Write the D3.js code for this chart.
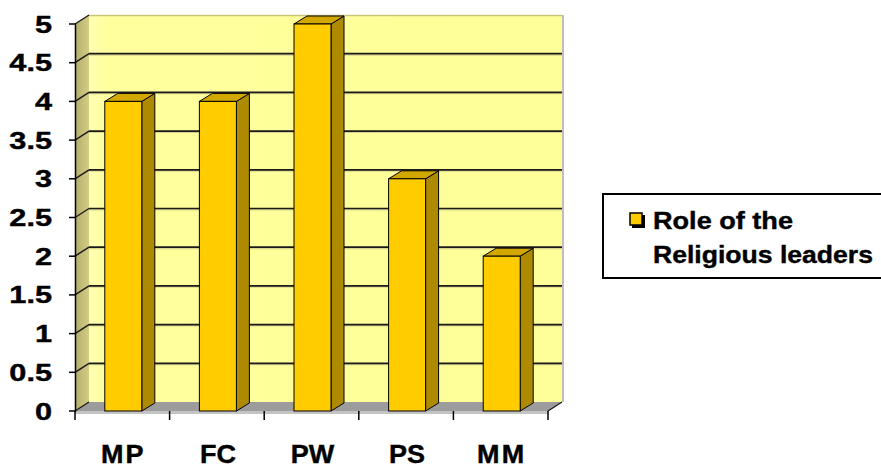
<!DOCTYPE html>
<html>
<head>
<meta charset="utf-8">
<script src="https://cdn.jsdelivr.net/npm/d3@7"></script>
<style>
  html, body { margin: 0; padding: 0; background: #fff; }
  svg { display: block; }
  text { font-family: "Liberation Sans", Arial, sans-serif; font-weight: bold; fill: #000; stroke: #000; stroke-width: 0.4px; }
</style>
</head>
<body>
<svg id="chart" width="881" height="468"></svg>
<script>
// Chart data
const categories = ["MP", "FC", "PW", "PS", "MM"];
const values = [4, 4, 5, 3, 2];
const yTickValues = [0, 0.5, 1, 1.5, 2, 2.5, 3, 3.5, 4, 4.5, 5];
const yTickLabels = ["0", "0.5", "1", "1.5", "2", "2.5", "3", "3.5", "4", "4.5", "5"];
const legendLines = ["Role of the", "Religious leaders"];

const svg = d3.select("#chart");

// Front plane scales
const x = d3.scaleBand().domain(categories).range([75, 548]).padding(0);
const y = d3.scaleLinear().domain([0, 5]).range([411, 24]);

// 3D offsets: walls and bars
const DX = 14, DY = -9;
const BDX = 13, BDY = -8;

const defs = svg.append("defs");
const sideGrad = defs.append("linearGradient").attr("id", "sideWall")
  .attr("x1", 0).attr("x2", 1).attr("y1", 0).attr("y2", 0);
sideGrad.append("stop").attr("offset", "0%").attr("stop-color", "#B5AE6C");
sideGrad.append("stop").attr("offset", "100%").attr("stop-color", "#D2CC84");
const backGrad = defs.append("linearGradient").attr("id", "backWall")
  .attr("x1", 0).attr("x2", 1).attr("y1", 0).attr("y2", 0);
backGrad.append("stop").attr("offset", "0%").attr("stop-color", "#FFFFB4");
backGrad.append("stop").attr("offset", "4%").attr("stop-color", "#FFFF9C");
backGrad.append("stop").attr("offset", "100%").attr("stop-color", "#FFFF99");

const x0 = x.range()[0], x1 = x.range()[1];
const yb = y(0), yt = y(5);

// Back wall
svg.append("rect")
  .attr("x", x0 + DX).attr("y", yt + DY)
  .attr("width", x1 - x0).attr("height", yb - yt)
  .attr("fill", "url(#backWall)");
// Back wall right and top edges
svg.append("line")
  .attr("x1", x1 + DX + 1).attr("x2", x1 + DX + 1)
  .attr("y1", yt + DY).attr("y2", yb + DY)
  .attr("stroke", "#BEBEBE").attr("stroke-width", 2);
svg.append("line")
  .attr("x1", x0 + DX).attr("x2", x1 + DX)
  .attr("y1", yt + DY + 0.5).attr("y2", yt + DY + 0.5)
  .attr("stroke", "#C9C37E").attr("stroke-width", 1.5);

// Left side wall
svg.append("polygon")
  .attr("points", [[x0, yb], [x0, yt], [x0 + DX, yt + DY], [x0 + DX, yb + DY]].join(" "))
  .attr("fill", "url(#sideWall)");

// Floor
svg.append("polygon")
  .attr("points", [[x0, yb], [x1, yb], [x1 + DX, yb + DY], [x0 + DX, yb + DY]].join(" "))
  .attr("fill", "#9C9C9C");
svg.append("line")
  .attr("x1", x0).attr("x2", x1).attr("y1", yb + 1.5).attr("y2", yb + 1.5)
  .attr("stroke", "#C4C4C4").attr("stroke-width", 3);

// Gridlines on back wall and side wall
const grid = svg.append("g");
yTickValues.filter(v => v > 0 && v < 5).forEach(v => {
  grid.append("line")
    .attr("x1", x0 + DX).attr("x2", x1 + DX)
    .attr("y1", y(v) + DY + 1.2).attr("y2", y(v) + DY + 1.2)
    .attr("stroke", "#D8D48C").attr("stroke-width", 1.5);
  grid.append("line")
    .attr("x1", x0 + DX).attr("x2", x1 + DX)
    .attr("y1", y(v) + DY).attr("y2", y(v) + DY)
    .attr("stroke", "#1a1a1a").attr("stroke-width", 1.7);
});
yTickValues.filter(v => v > 0).forEach(v => {
  grid.append("line")
    .attr("x1", x0).attr("y1", y(v))
    .attr("x2", x0 + DX).attr("y2", y(v) + DY)
    .attr("stroke", "#1a1a1a").attr("stroke-width", 1.4);
});
grid.append("line")
  .attr("x1", x0).attr("y1", yb)
  .attr("x2", x0 + DX).attr("y2", yb + DY)
  .attr("stroke", "#1a1a1a").attr("stroke-width", 1.3);
grid.append("line")
  .attr("x1", x1).attr("y1", yb)
  .attr("x2", x1 + DX).attr("y2", yb + DY)
  .attr("stroke", "#1a1a1a").attr("stroke-width", 1.3);

// Bars (front, side, top faces)
const barW = 37;
const barOff = (x.bandwidth() - barW) / 2 + 1;
const bars = svg.append("g").selectAll("g").data(categories.map((c, i) => ({ c, v: values[i] })))
  .join("g");
bars.append("polygon")
  .attr("points", d => {
    const l = x(d.c) + barOff + barW, t = y(d.v);
    return [[l, t], [l + BDX, t + BDY], [l + BDX, yb + BDY], [l, yb]].join(" ");
  })
  .attr("fill", "#AE8A00").attr("stroke", "#000").attr("stroke-width", 1).attr("stroke-linejoin", "round");
bars.append("polygon")
  .attr("points", d => {
    const l = x(d.c) + barOff, t = y(d.v);
    return [[l, t], [l + BDX, t + BDY], [l + barW + BDX, t + BDY], [l + barW, t]].join(" ");
  })
  .attr("fill", "#D2A700").attr("stroke", "#000").attr("stroke-width", 1).attr("stroke-linejoin", "round");
bars.append("rect")
  .attr("x", d => x(d.c) + barOff).attr("y", d => y(d.v))
  .attr("width", barW).attr("height", d => yb - y(d.v))
  .attr("fill", "#FFCC00").attr("stroke", "#000").attr("stroke-width", 1);

// Value axis
svg.append("line")
  .attr("x1", x0 + 0.5).attr("x2", x0 + 0.5).attr("y1", yt).attr("y2", yb + 1)
  .attr("stroke", "#000").attr("stroke-width", 1.5);
const yAxis = svg.append("g");
yTickValues.forEach((v, i) => {
  yAxis.append("line")
    .attr("x1", x0 - 6).attr("x2", x0 + 1).attr("y1", y(v)).attr("y2", y(v))
    .attr("stroke", "#000").attr("stroke-width", 1.5);
  yAxis.append("text")
    .attr("transform", `translate(52,${y(v) + 8.5}) scale(1.28,1)`)
    .attr("text-anchor", "end")
    .attr("font-size", 24)
    .text(yTickLabels[i]);
});

// Category axis ticks and labels
const xAxis = svg.append("g");
const bounds = categories.map(c => x(c)).concat([x1]);
bounds.forEach(b => {
  xAxis.append("line")
    .attr("x1", b).attr("x2", b).attr("y1", yb).attr("y2", yb + 9)
    .attr("stroke", "#000").attr("stroke-width", 1.5);
});
categories.forEach(c => {
  xAxis.append("text")
    .attr("transform", `translate(${x(c) + x.bandwidth() / 2 + 1},462.5) scale(1.08,1)`)
    .attr("text-anchor", "middle")
    .attr("font-size", 25)
    .attr("letter-spacing", c === "MP" || c === "MM" ? 2 : 0)
    .text(c);
});

// Legend
const legend = svg.append("g");
legend.append("rect")
  .attr("x", 603).attr("y", 194).attr("width", 300).attr("height", 84)
  .attr("fill", "#fff").attr("stroke", "#000").attr("stroke-width", 2);
legend.append("rect")
  .attr("x", 632).attr("y", 215).attr("width", 13).attr("height", 13)
  .attr("fill", "#000");
legend.append("rect")
  .attr("x", 630).attr("y", 213).attr("width", 12).attr("height", 12)
  .attr("fill", "#FFCC00").attr("stroke", "#000").attr("stroke-width", 1.5);
legend.append("text")
  .attr("x", 653).attr("y", 229).attr("font-size", 24)
  .attr("textLength", 140).attr("lengthAdjust", "spacingAndGlyphs")
  .text(legendLines[0]);
legend.append("text")
  .attr("x", 653).attr("y", 263).attr("font-size", 24)
  .attr("textLength", 220).attr("lengthAdjust", "spacingAndGlyphs")
  .text(legendLines[1]);
</script>
</body>
</html>
